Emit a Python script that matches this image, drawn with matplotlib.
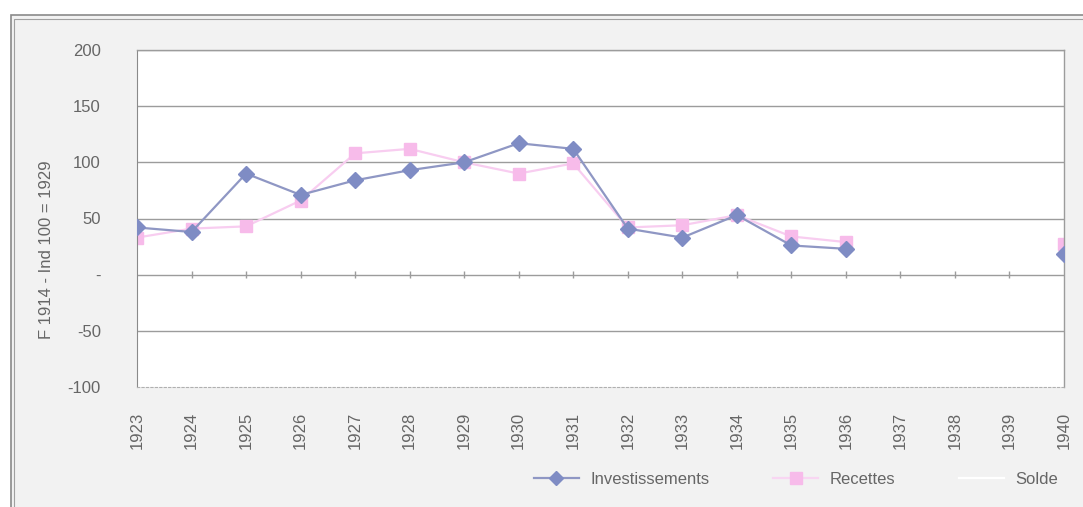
import numpy as np
import matplotlib
matplotlib.use("Agg")
import matplotlib.pyplot as plt
from matplotlib.lines import Line2D
from matplotlib.patches import Rectangle

plt.rcParams['font.family'] = ['Liberation Sans Narrow', 'Liberation Sans', 'DejaVu Sans']

years = ["1923", "1924", "1925", "1926", "1927", "1928", "1929", "1930", "1931",
         "1932", "1933", "1934", "1935", "1936", "1937", "1938", "1939", "1940"]
investissements = [42, 38, 90, 71, 84, 93, 100, 117, 112,
                   41, 33, 53, 26, 23, np.nan, np.nan, np.nan, 18]
recettes = [33, 41, 43, 66, 108, 112, 100, 90, 99,
            42, 44, 53, 34, 29, np.nan, np.nan, np.nan, 27]
y_ticks = [-100, -50, 0, 50, 100, 150, 200]
y_ticklabels = ["-100", "-50", "-", "50", "100", "150", "200"]
y_label = "F 1914 - Ind 100 = 1929"

W, H = 1083, 507
fig = plt.figure(figsize=(W / 100, H / 100), dpi=100, facecolor='white')

# outer textured frame
fig.patches.append(Rectangle((11 / W, -0.1), 1.2, 1.1 - 15 / H, transform=fig.transFigure,
                             facecolor='#f2f2f2', edgecolor='#8a8a8a', linewidth=1.2, zorder=-2))
fig.patches.append(Rectangle((14 / W, -0.1), 1.2, 1.1 - 19 / H, transform=fig.transFigure,
                             facecolor='none', edgecolor='#a0a0a0', linewidth=0.8, zorder=-1))

left, right = 137 / W, 1064 / W
top, bottom = 1 - 50 / H, 1 - 387 / H
ax = fig.add_axes([left, bottom, right - left, top - bottom])
ax.set_facecolor('white')

x = np.arange(len(years))
ax.set_xlim(0, len(years) - 1)
ax.set_ylim(-100, 200)

grid_c = '#9c9c9c'
for v in y_ticks:
    if v not in (0, -100):
        ax.axhline(v, color=grid_c, lw=1.0, zorder=1)
ax.axhline(0, color=grid_c, lw=1.0, zorder=1)
ax.vlines(x[1:-1], -3, 3, color=grid_c, lw=1.0, zorder=1)

ax.plot(x, investissements, color='#8f97c4', lw=1.6, marker='D', markersize=8,
        markerfacecolor='#7f8cc4', markeredgecolor='#7f8cc4', zorder=3)
ax.plot(x, recettes, color='#f8cdf0', lw=1.6, marker='s', markersize=9,
        markerfacecolor='#f7bbea', markeredgecolor='#f7bbea', zorder=2)

for s in ['top', 'right']:
    ax.spines[s].set_color(grid_c)
    ax.spines[s].set_linewidth(1.0)
ax.spines['left'].set_color('#8a8a8a')
ax.spines['bottom'].set_color('#b0b0b0')
ax.spines['bottom'].set_linestyle((0, (2, 2)))

ax.set_yticks(y_ticks)
ax.set_yticklabels(y_ticklabels)
ax.set_xticks(x)
ax.set_xticklabels(years, rotation=90)
ax.tick_params(axis='y', length=0, pad=26, labelsize=12, labelcolor='#666666')
ax.tick_params(axis='x', length=0, pad=18, labelsize=12, labelcolor='#666666')
fig.text(47 / W, 1 - 250 / H, y_label, rotation=90, ha='center', va='center',
         fontsize=12, color='#666666')

handles = [
    Line2D([], [], color='#8f97c4', lw=1.6, marker='D', markersize=7,
           markerfacecolor='#7f8cc4', markeredgecolor='#7f8cc4'),
    Line2D([], [], color='#f8d6f2', lw=1.6, marker='s', markersize=9,
           markerfacecolor='#f7bbea', markeredgecolor='#f7bbea'),
    Line2D([], [], color='white', lw=1.6),
]
fig.legend(handles, ["Investissements", "Recettes", "Solde"], ncol=3,
           loc='center', bbox_to_anchor=(796 / W, 1 - 479 / H), frameon=False,
           fontsize=12, labelcolor='#666666', handlelength=2.7, handletextpad=0.7,
           columnspacing=3.8)

fig.savefig("out.png", dpi=100, facecolor=fig.get_facecolor())
